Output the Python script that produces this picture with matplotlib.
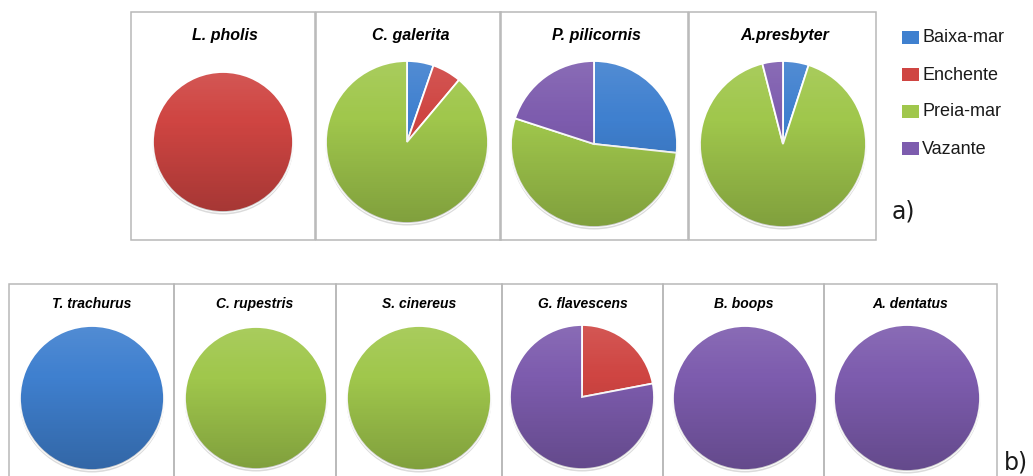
import numpy as np
import matplotlib.pyplot as plt
from matplotlib.patches import Rectangle, Circle

# Tide classes and their colours
tide_classes = ['Baixa-mar', 'Enchente', 'Preia-mar', 'Vazante']
tide_colors = ['#3f80cf', '#cf4542', '#a0c74c', '#7d5cae']

# a) species and % of captures per tide class (Baixa-mar, Enchente, Preia-mar, Vazante)
species_a = ['L. pholis', 'C. galerita', 'P. pilicornis', 'A.presbyter']
l_pholis = [0, 100, 0, 0]
c_galerita = [5.3, 5.8, 88.9, 0]
p_pilicornis = [26.7, 0, 53.3, 20.0]
a_presbyter = [5, 0, 91, 4]
values_a = [l_pholis, c_galerita, p_pilicornis, a_presbyter]

# b) species
species_b = ['T. trachurus', 'C. rupestris', 'S. cinereus', 'G. flavescens', 'B. boops', 'A. dentatus']
t_trachurus = [100, 0, 0, 0]
c_rupestris = [0, 0, 100, 0]
s_cinereus = [0, 0, 100, 0]
g_flavescens = [0, 22, 0, 78]
b_boops = [0, 0, 0, 100]
a_dentatus = [0, 0, 0, 100]
values_b = [t_trachurus, c_rupestris, s_cinereus, g_flavescens, b_boops, a_dentatus]

# ---- layout (pixel units, y measured from the top) ----
W, H = 1033, 477
boxes_a = [(131, 315), (316, 501), (500, 688), (689, 876)]
box_a_y = (13, 241)
pies_a = [(223, 143, 70), (407, 143, 81), (594, 145, 83), (783, 145, 83)]
title_a_y = 40

boxes_b = [(9, 174), (174, 336), (336, 502), (502, 663), (663, 824), (824, 997)]
box_b_y = (285, 480)
pies_b = [(92, 399, 72), (256, 399, 71), (419, 399, 72), (582, 398, 72), (745, 399, 72), (907, 399, 73)]
title_b_y = 308

fig = plt.figure(figsize=(W / 100, H / 100), dpi=100)
ax = fig.add_axes([0, 0, 1, 1])

def Y(y):
    return H - y

# vertical shading: slightly light at the top, darker at the bottom
n = 256
t = np.linspace(0, 1, n)
shade = np.zeros((n, 1, 4))
shade[:, 0, :3] = np.where(t[:, None] < 0.35, 1.0, 0.0)
shade[:, 0, 3] = np.where(t < 0.35, 0.10 * (1 - t / 0.35), 0.20 * (t - 0.35) / 0.65)


def draw_box(x0, x1, y0, y1):
    ax.add_patch(Rectangle((x0, Y(y1)), x1 - x0, y1 - y0, fill=False,
                           edgecolor='#b8b8b8', linewidth=1.1, zorder=1))


def draw_pie(vals, cx, cy, r):
    keep = [(v, c) for v, c in zip(vals, tide_colors) if v > 0]
    v = [k[0] for k in keep]
    c = [k[1] for k in keep]
    # soft drop shadow
    ax.add_patch(Circle((cx, Y(cy) - 2), r + 0.5, color='#9a9a9a', alpha=0.35,
                        linewidth=0, zorder=2))
    ax.pie(v, colors=c, startangle=90, counterclock=False,
           center=(cx, Y(cy)), radius=r, frame=True,
           wedgeprops=dict(edgecolor='white', linewidth=1.3, zorder=3))
    clip = Circle((cx, Y(cy)), r, transform=ax.transData)
    im = ax.imshow(shade, extent=(cx - r, cx + r, Y(cy) - r, Y(cy) + r),
                   origin='upper', aspect='auto', interpolation='bilinear', zorder=4)
    im.set_clip_path(clip)


title_font = dict(family='Liberation Sans', weight='bold', style='italic')

for (x0, x1), (cx, cy, r), name, vals in zip(boxes_a, pies_a, species_a, values_a):
    draw_box(x0, x1, *box_a_y)
    draw_pie(vals, cx, cy, r)
    ax.text((x0 + x1) / 2 + 2, Y(title_a_y), name, ha='center', va='baseline',
            fontsize=11.5, zorder=5, **title_font)

for (x0, x1), (cx, cy, r), name, vals in zip(boxes_b, pies_b, species_b, values_b):
    draw_box(x0, x1, *box_b_y)
    draw_pie(vals, cx, cy, r)
    ax.text((x0 + x1) / 2, Y(title_b_y), name, ha='center', va='baseline',
            fontsize=10, zorder=5, **title_font)

# legend
legend_rows = [38, 75, 112, 149]
for label, col, ly in zip(tide_classes, tide_colors, legend_rows):
    ax.add_patch(Rectangle((902, Y(ly) - 6.5), 17, 13, facecolor=col,
                           edgecolor='none', zorder=5))
    ax.text(922, Y(ly), label, ha='left', va='center', fontsize=13,
            family='Liberation Sans', color='#1a1a1a', zorder=5)

ax.text(892, Y(212), 'a)', ha='left', va='center', fontsize=17,
        family='DejaVu Sans', color='#1a1a1a')
ax.text(1004, Y(463), 'b)', ha='left', va='center', fontsize=17,
        family='DejaVu Sans', color='#1a1a1a')

ax.set_xlim(0, W)
ax.set_ylim(0, H)
ax.set_aspect('auto')
ax.axis('off')

fig.savefig('out.png', dpi=100, facecolor='white')
